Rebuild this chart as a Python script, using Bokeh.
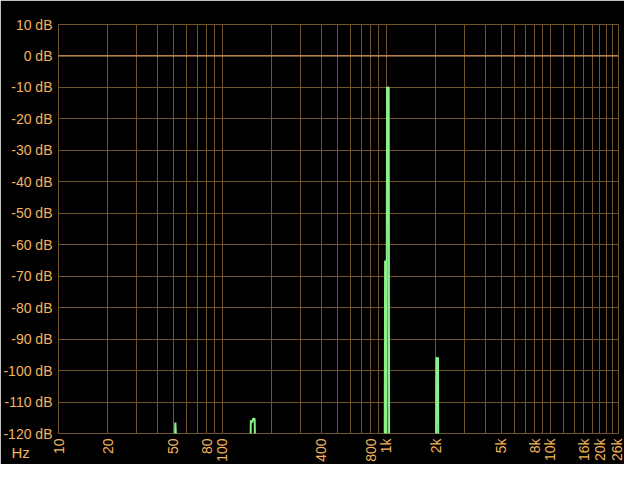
import math
from bokeh.plotting import figure
from bokeh.models import FixedTicker, Span, Label
from bokeh.embed import file_html
from bokeh.resources import INLINE

# ---- data ----
# spectrum trace (Hz, dB); floor below -120 dB is out of view
FREQ = [10, 50.8, 51.6, 52.9, 147, 149, 151, 154, 157, 159,
        975, 981, 986, 1000, 1008, 1032, 1038, 2004, 2016, 2062, 2072, 26000]
DB = [-130, -130, -116.5, -130, -130, -115.8, -116.5, -115.3, -115.3, -130,
      -130, -65, -130, -130, -10, -10, -130, -130, -96, -96, -130, -130]

X_LABEL_TICKS = [10, 20, 50, 80, 100, 400, 800, 1000, 2000, 5000, 8000, 10000, 16000, 20000, 26000]
X_LABELS = ["10", "20", "50", "80", "100", "400", "800", "1k", "2k", "5k", "8k", "10k", "16k", "20k", "26k"]
X_GRID = ([10, 20, 30, 40, 50, 60, 70, 80, 90,
           100, 200, 300, 400, 500, 600, 700, 800, 900,
           1000, 2000, 3000, 4000, 5000, 6000, 7000, 8000, 9000,
           10000, 12000, 14000, 16000, 18000, 20000, 22000, 24000, 26000])
Y_TICKS = [-120, -110, -100, -90, -80, -70, -60, -50, -40, -30, -20, -10, 0, 10]
Y_LABELS = [f"{v} dB" for v in Y_TICKS]
REF_DB = 0
UNIT_LABEL = "Hz"

# ---- style ----
BG = "#000000"
GRID = "#6f542e"
ZERO = "#f0a860"
TEXT = "#f4b35c"
GREEN = "#8cf08c"
FONT = "Liberation Sans"

p = figure(width=624, height=464, x_axis_type="log",
           x_range=(10, 26000), y_range=(-120, 10),
           output_backend="svg", toolbar_location=None,
           background_fill_color=BG, border_fill_color=BG,
           min_border_left=56, min_border_right=6,
           min_border_top=24, min_border_bottom=29)
p.outline_line_color = GRID
p.outline_line_width = 1

# grids
p.xgrid.ticker = FixedTicker(ticks=X_GRID)
p.ygrid.ticker = FixedTicker(ticks=Y_TICKS)
for g in (p.xgrid, p.ygrid):
    g.grid_line_color = GRID
    g.grid_line_width = 1

p.add_layout(Span(location=REF_DB, dimension="width", line_color=ZERO, line_width=1))

# axes
p.xaxis.ticker = FixedTicker(ticks=X_LABEL_TICKS, minor_ticks=[])
p.xaxis.major_label_overrides = {t: l for t, l in zip(X_LABEL_TICKS, X_LABELS)}
p.xaxis.major_label_orientation = math.pi / 2
p.yaxis.ticker = FixedTicker(ticks=Y_TICKS, minor_ticks=[])
p.yaxis.major_label_overrides = {t: l for t, l in zip(Y_TICKS, Y_LABELS)}
for ax in (p.xaxis, p.yaxis):
    ax.axis_line_color = None
    ax.major_tick_line_color = None
    ax.minor_tick_line_color = None
    ax.major_tick_out = 0
    ax.major_tick_in = 0
    ax.minor_tick_out = 0
    ax.minor_tick_in = 0
    ax.major_label_text_color = TEXT
    ax.major_label_text_font = FONT
    ax.major_label_text_font_size = "14px"
    ax.major_label_standoff = 5
p.yaxis.major_label_standoff = 6

p.line(FREQ, DB, line_color=GREEN, line_width=2)

# unit caption under the y-axis labels (placed via the top side panel so it is not clipped)
p.add_layout(Label(x=-47, y=-428, x_units="screen", y_units="screen", text=UNIT_LABEL,
                   text_baseline="alphabetic",
                   text_color=TEXT, text_font=FONT, text_font_size="15px"), "above")

open("out.html", "w").write(file_html(p, INLINE))
